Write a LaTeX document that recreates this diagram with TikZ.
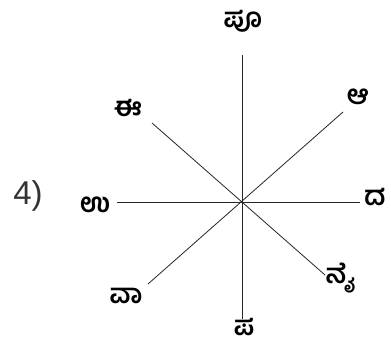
\documentclass[tikz,border=0pt]{standalone}
\usepackage{fontspec}
\setmainfont{Liberation Sans}
\newfontfamily\kanfont[Script=Kannada]{Hind Mysuru}
\usetikzlibrary{positioning}

\begin{document}
\begin{tikzpicture}[
    x=1pt, y=-1pt,
    ray/.style={draw=black!85, line width=0.8pt},
    dirlabel/.style={font=\kanfont\bfseries\fontsize{27}{27}\selectfont, inner sep=0pt},
    numlabel/.style={font=\fontsize{33}{33}\selectfont, text=black!80, inner sep=0pt},
  ]
  \useasboundingbox (0,0) rectangle (391,350);

  % === Centre and line ends ===
  \coordinate (O) at (242,202);
  \coordinate (n) at (242,55);
  \coordinate (s) at (242,319);
  \coordinate (w) at (117,202);
  \coordinate (e) at (360,202);
  \coordinate (ne) at (343,112);
  \coordinate (sw) at (148,284);
  \coordinate (nw) at (152,123);
  \coordinate (se) at (325,275);

  % Lines
  \draw[ray] (n) -- (s);
  \draw[ray] (w) -- (e);
  \draw[ray] (ne) -- (sw);
  \draw[ray] (nw) -- (se);

  % === Labels ===
  \node[numlabel] (num) at (28,196) {4)};
  \node[dirlabel] (lpu) at (243,21) {ಪೂ};
  \node[dirlabel, text depth=0pt, anchor=south] (lpa) at (244,336) {ಪ};
  \node[dirlabel] (lu) at (95,205) {ಉ};
  \node[dirlabel] (lda) at (375,197) {ದ};
  \node[dirlabel] (li) at (128,108) {ಈ};
  \node[dirlabel] (la) at (358,97) {ಆ};
  \node[dirlabel] (lva) at (126,296) {ವಾ};
  \node[dirlabel] (lnai) at (341,278) {ನೈ};

\end{tikzpicture}
\end{document}
